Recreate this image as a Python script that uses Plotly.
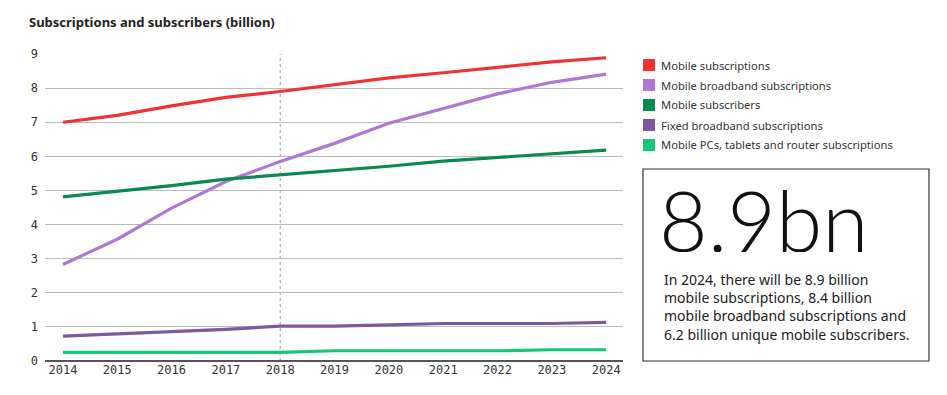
import plotly.graph_objects as go

years = list(range(2014, 2025))
series_names = [
    "Mobile subscriptions",
    "Mobile broadband subscriptions",
    "Mobile subscribers",
    "Fixed broadband subscriptions",
    "Mobile PCs, tablets and router subscriptions",
]
mobile_subscriptions = [7.0, 7.2, 7.48, 7.73, 7.9, 8.1, 8.3, 8.45, 8.6, 8.77, 8.89]
mobile_broadband = [2.83, 3.57, 4.48, 5.26, 5.85, 6.38, 6.97, 7.41, 7.83, 8.17, 8.41]
mobile_subscribers = [4.81, 4.97, 5.14, 5.33, 5.45, 5.58, 5.71, 5.86, 5.97, 6.09, 6.18]
fixed_broadband = [0.73, 0.80, 0.85, 0.93, 1.02, 1.02, 1.06, 1.1, 1.1, 1.1, 1.13]
mobile_pcs = [0.25, 0.25, 0.25, 0.25, 0.25, 0.3, 0.3, 0.3, 0.3, 0.33, 0.33]
y_ticks = list(range(0, 10))
highlight_year = 2018
big_number = "8.9bn"
box_text = ["In 2024, there will be 8.9 billion",
            "mobile subscriptions, 8.4 billion",
            "mobile broadband subscriptions and",
            "6.2 billion unique mobile subscribers."]
title = "Subscriptions and subscribers (billion)"

colors = ["#F03232", "#AF78D2", "#0A8A50", "#7D5AA0", "#14C878"]
values = [mobile_subscriptions, mobile_broadband, mobile_subscribers, fixed_broadband, mobile_pcs]

W, H = 947, 395
def px(x):
    return x / W
def py(y):
    return 1 - y / H

fig = go.Figure()
for name, vals, col in zip(series_names, values, colors):
    fig.add_trace(go.Scatter(x=years, y=vals, mode="lines", name=name,
                             line=dict(color=col, width=3.2), showlegend=False))

fig.add_shape(type="line", xref="x", yref="y", x0=highlight_year, x1=highlight_year,
              y0=0, y1=9, line=dict(color="#9A9A9A", width=1, dash="3px,3px"), layer="below")

# legend
for i, (name, col) in enumerate(zip(series_names, colors)):
    yc = 65 + 20 * i
    fig.add_shape(type="rect", xref="paper", yref="paper",
                  x0=px(643), x1=px(655), y0=py(yc + 6), y1=py(yc - 6),
                  fillcolor=col, line=dict(width=0))
    fig.add_annotation(x=px(659), y=py(yc), xref="paper", yref="paper", text=name,
                       showarrow=False, xanchor="left", yanchor="middle",
                       font=dict(family="Noto Sans", size=11.2, color="#333333"))

# box
fig.add_shape(type="rect", xref="paper", yref="paper",
              x0=px(643), x1=px(929), y0=py(361), y1=py(169),
              line=dict(color="#333333", width=1.2), fillcolor="rgba(0,0,0,0)")
fig.add_annotation(x=px(657), y=py(219), xref="paper", yref="paper", text=big_number,
                   showarrow=False, xanchor="left", yanchor="middle", height=66,
                   font=dict(family="Lato", size=84, color="#111111", weight=300))
fig.add_annotation(x=px(662), y=py(307), xref="paper", yref="paper",
                   text="<br>".join(box_text), align="left",
                   showarrow=False, xanchor="left", yanchor="middle",
                   font=dict(family="Noto Sans", size=14, color="#222222"))

fig.update_layout(
    width=W, height=H,
    margin=dict(l=0, r=0, t=0, b=0),
    paper_bgcolor="white", plot_bgcolor="white",
    title=dict(text="<b>" + title + "</b>", x=px(29), xanchor="left", y=py(22),
               yanchor="middle", xref="paper", yref="paper", automargin=False,
               font=dict(family="Noto Sans", size=13, color="#222222")),
    xaxis=dict(domain=[px(45), px(623)], range=[2013.67, 2024.31], tickvals=years,
               ticktext=[str(y) for y in years], automargin=False,
               showgrid=False, zeroline=False, showline=False,
               tickfont=dict(family="DejaVu Sans Mono", size=12, color="#333333"),
               ticks="", ticklen=0),
    yaxis=dict(domain=[py(361), py(54)], range=[0, 9], tickvals=y_ticks, automargin=False,
               showgrid=True, gridcolor="#BBBBBB", gridwidth=1,
               zeroline=True, zerolinecolor="#555555", zerolinewidth=1.5,
               tickfont=dict(family="DejaVu Sans Mono", size=12, color="#333333"),
               ticklabelstandoff=6),
    showlegend=False,
)

fig.write_html("out.html", config={"displayModeBar": False},
               post_script="document.body.style.margin='0';")
